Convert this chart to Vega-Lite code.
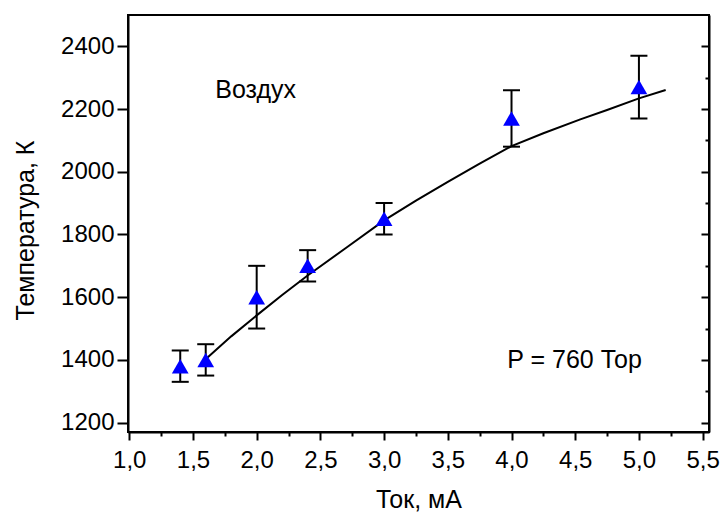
{
  "$schema": "https://vega.github.io/schema/vega-lite/v6.json",
  "width": 581,
  "height": 417,
  "autosize": "none",
  "padding": {"left": 128, "top": 15, "right": 15, "bottom": 81},
  "background": "white",
  "config": {
    "view": {"stroke": "black", "strokeWidth": 2},
    "font": "Liberation Sans",
    "axis": {
      "domainColor": "black", "domainWidth": 2,
      "tickColor": "black", "tickWidth": 2,
      "labelColor": "black", "titleColor": "black",
      "labelFont": "Liberation Sans", "titleFont": "Liberation Sans",
      "labelFontSize": 24, "titleFontSize": 25, "titleFontWeight": "normal",
      "grid": false, "labelOverlap": false, "labelBound": false, "labelFlush": false
    }
  },
  "datasets": {
    "curve": [
      {"x": 1.61, "y": 1406}, {"x": 1.8, "y": 1475}, {"x": 2.0, "y": 1542},
      {"x": 2.2, "y": 1607}, {"x": 2.4, "y": 1669}, {"x": 2.7, "y": 1757},
      {"x": 3.0, "y": 1845}, {"x": 3.25, "y": 1908}, {"x": 3.5, "y": 1968},
      {"x": 3.75, "y": 2026}, {"x": 4.0, "y": 2082}, {"x": 4.25, "y": 2123},
      {"x": 4.54, "y": 2167}, {"x": 4.75, "y": 2197}, {"x": 5.0, "y": 2234},
      {"x": 5.21, "y": 2261}
    ],
    "points": [
      {"x": 1.4, "y": 1380, "lo": 1330, "hi": 1430},
      {"x": 1.6, "y": 1400, "lo": 1350, "hi": 1450},
      {"x": 2.0, "y": 1600, "lo": 1500, "hi": 1700},
      {"x": 2.4, "y": 1700, "lo": 1650, "hi": 1750},
      {"x": 3.0, "y": 1850, "lo": 1800, "hi": 1900},
      {"x": 4.0, "y": 2170, "lo": 2080, "hi": 2260},
      {"x": 5.0, "y": 2270, "lo": 2170, "hi": 2370}
    ],
    "notes": [
      {"x": 1.675, "y": 2234, "label": "Воздух"},
      {"x": 3.967, "y": 1375, "label": "P = 760 Тор"}
    ]
  },
  "encoding": {
    "x": {
      "field": "x", "type": "quantitative",
      "scale": {"domain": [0.99, 5.55], "nice": false, "zero": false},
      "axis": {
        "values": [1, 1.25, 1.5, 1.75, 2, 2.25, 2.5, 2.75, 3, 3.25, 3.5, 3.75, 4, 4.25, 4.5, 4.75, 5, 5.25, 5.5],
        "labelExpr": "abs(datum.value*2 - round(datum.value*2)) < 0.001 ? replace(format(datum.value, '.1f'), '.', ',') : ''",
        "tickSize": {"condition": {"test": "abs(datum.value*2 - round(datum.value*2)) < 0.001", "value": 8}, "value": 4},
        "labelPadding": 8,
        "title": "Ток, мА",
        "titleBaseline": "alphabetic",
        "titleY": 75
      }
    }
  },
  "layer": [
    {
      "layer": [
        {
          "data": {"name": "curve"},
          "mark": {"type": "line", "color": "black", "strokeWidth": 2},
          "encoding": {
            "y": {
              "field": "y", "type": "quantitative",
              "scale": {"domain": [1170, 2500], "nice": false, "zero": false},
              "axis": {
                "orient": "left",
                "values": [1200, 1300, 1400, 1500, 1600, 1700, 1800, 1900, 2000, 2100, 2200, 2300, 2400],
                "labelExpr": "datum.value % 200 === 0 ? format(datum.value, 'd') : ''",
                "tickSize": {"condition": {"test": "datum.value % 200 === 0", "value": 11}, "value": 5},
                "labelPadding": 3,
                "title": "Температура, К",
                "titleBaseline": "bottom",
                "titleX": -90,
                "titleY": 215
              }
            }
          }
        },
        {
          "data": {"name": "points"},
          "mark": {"type": "rule", "color": "black", "strokeWidth": 2},
          "encoding": {
            "y": {"field": "lo", "type": "quantitative"},
            "y2": {"field": "hi"}
          }
        },
        {
          "data": {"name": "points"},
          "mark": {"type": "tick", "orient": "horizontal", "color": "black", "size": 17, "thickness": 2, "opacity": 1},
          "encoding": {
            "y": {"field": "lo", "type": "quantitative"}
          }
        },
        {
          "data": {"name": "points"},
          "mark": {"type": "tick", "orient": "horizontal", "color": "black", "size": 17, "thickness": 2, "opacity": 1},
          "encoding": {
            "y": {"field": "hi", "type": "quantitative"}
          }
        },
        {
          "data": {"name": "notes"},
          "mark": {"type": "text", "align": "left", "baseline": "alphabetic", "font": "Liberation Sans", "fontSize": 25, "color": "black"},
          "encoding": {
            "y": {"field": "y", "type": "quantitative"},
            "text": {"field": "label"}
          }
        }
      ]
    },
    {
      "data": {"name": "points"},
      "mark": {"type": "point", "shape": "triangle-up", "filled": true, "color": "#0000ff", "opacity": 1, "size": 280},
      "encoding": {
        "y": {
          "field": "y", "type": "quantitative",
          "scale": {"domain": [1170, 2500], "nice": false, "zero": false},
          "axis": {
            "orient": "right",
            "values": [1200, 1300, 1400, 1500, 1600, 1700, 1800, 1900, 2000, 2100, 2200, 2300, 2400],
            "labelExpr": "''",
            "title": "",
            "tickSize": {"condition": {"test": "datum.value % 200 === 0", "value": -8}, "value": -4}
          }
        }
      }
    }
  ],
  "resolve": {"scale": {"y": "independent"}}
}
